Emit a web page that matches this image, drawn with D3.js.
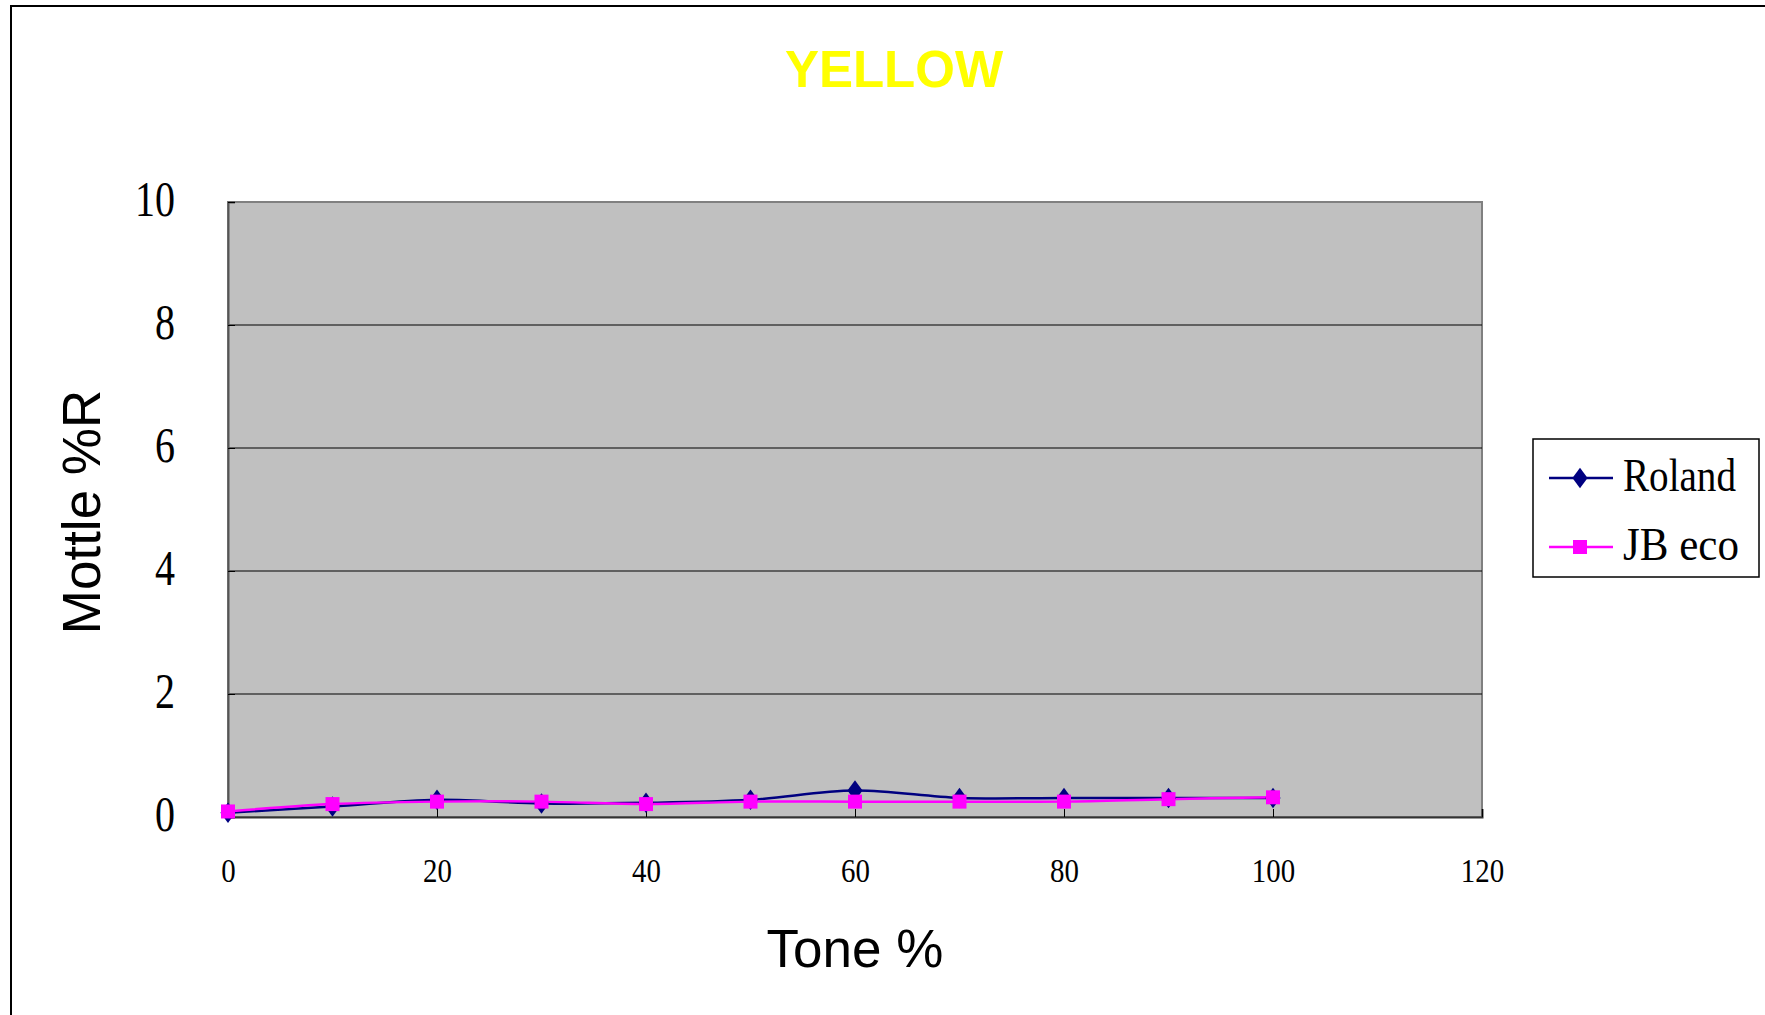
<!DOCTYPE html>
<html>
<head>
<meta charset="utf-8">
<script src="https://cdn.jsdelivr.net/npm/d3@7"></script>
<style>
  html, body { margin: 0; padding: 0; background: #ffffff; }
  svg { display: block; }
</style>
</head>
<body>
<script>
// ---- data ----
const tone = [0, 10, 20, 30, 40, 50, 60, 70, 80, 90, 100];
const roland = [0.07, 0.17, 0.28, 0.22, 0.23, 0.28, 0.43, 0.31, 0.31, 0.31, 0.31];
const jbEco = [0.09, 0.21, 0.25, 0.25, 0.21, 0.25, 0.25, 0.25, 0.25, 0.29, 0.32];
const xTicks = [0, 20, 40, 60, 80, 100, 120];
const yTicks = [0, 2, 4, 6, 8, 10];
const seriesNames = ["Roland", "JB eco"];
const chartTitle = "YELLOW";
const xTitle = "Tone %";
const yTitle = "Mottle %R";

const W = 1765, H = 1015;
const plot = { left: 228, top: 202, right: 1482, bottom: 817 };

const svg = d3.select("body").append("svg").attr("width", W).attr("height", H);

// outer chart border (extends past right/bottom edge)
svg.append("rect").attr("x", 11).attr("y", 6).attr("width", W + 20).attr("height", H + 20)
  .attr("fill", "#fff").attr("stroke", "#000").attr("stroke-width", 2);

const x = d3.scaleLinear().domain([0, 120]).range([plot.left, plot.right]);
const y = d3.scaleLinear().domain([0, 10]).range([plot.bottom, plot.top]);

// plot background
svg.append("rect").attr("x", plot.left).attr("y", plot.top)
  .attr("width", plot.right - plot.left).attr("height", plot.bottom - plot.top)
  .attr("fill", "#c0c0c0").attr("stroke", "#808080").attr("stroke-width", 2);

// gridlines
svg.append("g").selectAll("line").data(yTicks.filter(d => d > 0 && d < 10)).join("line")
  .attr("x1", plot.left).attr("x2", plot.right)
  .attr("y1", d => y(d)).attr("y2", d => y(d))
  .attr("stroke", "#000").attr("stroke-width", 1);

// y axis
const yAxis = svg.append("g").attr("transform", `translate(${plot.left},0)`)
  .call(d3.axisLeft(y).tickValues(yTicks).tickSize(-7).tickPadding(0).tickFormat(d3.format("d")));
yAxis.select(".domain").attr("stroke", "#555").attr("stroke-width", 2);
yAxis.selectAll(".tick line").attr("stroke", "#000");
yAxis.selectAll(".tick text")
  .attr("font-family", "'Liberation Serif', 'DejaVu Serif', serif")
  .attr("font-size", 50).attr("fill", "#000")
  .attr("text-anchor", "end").attr("dy", "0.27em")
  .attr("x", -53 / 0.8).attr("transform", "scale(0.8,1)");

// x axis
const xAxis = svg.append("g").attr("transform", `translate(0,${plot.bottom})`)
  .call(d3.axisBottom(x).tickValues(xTicks).tickSize(-8).tickPadding(0).tickFormat(d3.format("d")));
xAxis.select(".domain").attr("stroke", "#333").attr("stroke-width", 2);
xAxis.selectAll(".tick line").attr("stroke", "#000");
xAxis.selectAll(".tick text")
  .attr("font-family", "'Liberation Serif', 'DejaVu Serif', serif")
  .attr("font-size", 34).attr("fill", "#000")
  .attr("y", 65).attr("dy", 0)
  .attr("transform", "scale(0.85,1)");

// series
const colors = ["#000080", "#ff00ff"];
const dataSets = [roland, jbEco];
const line = d3.line().x((d, i) => x(tone[i])).y(d => y(d)).curve(d3.curveCatmullRom.alpha(0));

dataSets.forEach((vals, si) => {
  svg.append("path").datum(vals).attr("d", line)
    .attr("fill", "none").attr("stroke", colors[si]).attr("stroke-width", 2.5);
});

const diamond = d3.symbol().type(d3.symbolDiamond).size(150);
// Roland diamonds
svg.append("g").selectAll("path").data(roland).join("path")
  .attr("d", diamond)
  .attr("transform", (d, i) => `translate(${x(tone[i])},${y(d)}) scale(1.15,0.9)`)
  .attr("fill", colors[0]);
// JB eco squares
svg.append("g").selectAll("rect").data(jbEco).join("rect")
  .attr("x", (d, i) => x(tone[i]) - 7).attr("y", d => y(d) - 7)
  .attr("width", 14).attr("height", 14)
  .attr("fill", colors[1]);

// title
svg.append("text").attr("x", 894).attr("y", 87).attr("text-anchor", "middle")
  .attr("font-family", "'Liberation Sans', Arial, sans-serif").attr("font-weight", "bold")
  .attr("font-size", 51).attr("fill", "#ffff00").text(chartTitle);

// axis titles
svg.append("text").attr("x", 855).attr("y", 967).attr("text-anchor", "middle")
  .attr("font-family", "'Liberation Sans', Arial, sans-serif")
  .attr("font-size", 53).attr("fill", "#000").text(xTitle);
svg.append("text").attr("transform", "translate(100,512) rotate(-90)").attr("text-anchor", "middle")
  .attr("font-family", "'Liberation Sans', Arial, sans-serif")
  .attr("font-size", 53).attr("fill", "#000").text(yTitle);

// legend
const lg = svg.append("g");
lg.append("rect").attr("x", 1533).attr("y", 439).attr("width", 226).attr("height", 138)
  .attr("fill", "#fff").attr("stroke", "#000").attr("stroke-width", 1.5);
const legY = [478, 547];
seriesNames.forEach((name, si) => {
  lg.append("line").attr("x1", 1549).attr("x2", 1613).attr("y1", legY[si]).attr("y2", legY[si])
    .attr("stroke", colors[si]).attr("stroke-width", 2.5);
  if (si === 0) {
    lg.append("path").attr("d", diamond)
      .attr("transform", `translate(1580,${legY[si]}) scale(1.15,0.9)`).attr("fill", colors[si]);
  } else {
    lg.append("rect").attr("x", 1573).attr("y", legY[si] - 7).attr("width", 14).attr("height", 14)
      .attr("fill", colors[si]);
  }
  lg.append("text").attr("x", 1623).attr("y", legY[si] + 13)
    .attr("font-family", "'Liberation Serif', 'DejaVu Serif', serif")
    .attr("font-size", 47).attr("fill", "#000")
    .attr("textLength", si === 0 ? 113 : 116).attr("lengthAdjust", "spacingAndGlyphs")
    .text(name);
});
</script>
</body>
</html>
